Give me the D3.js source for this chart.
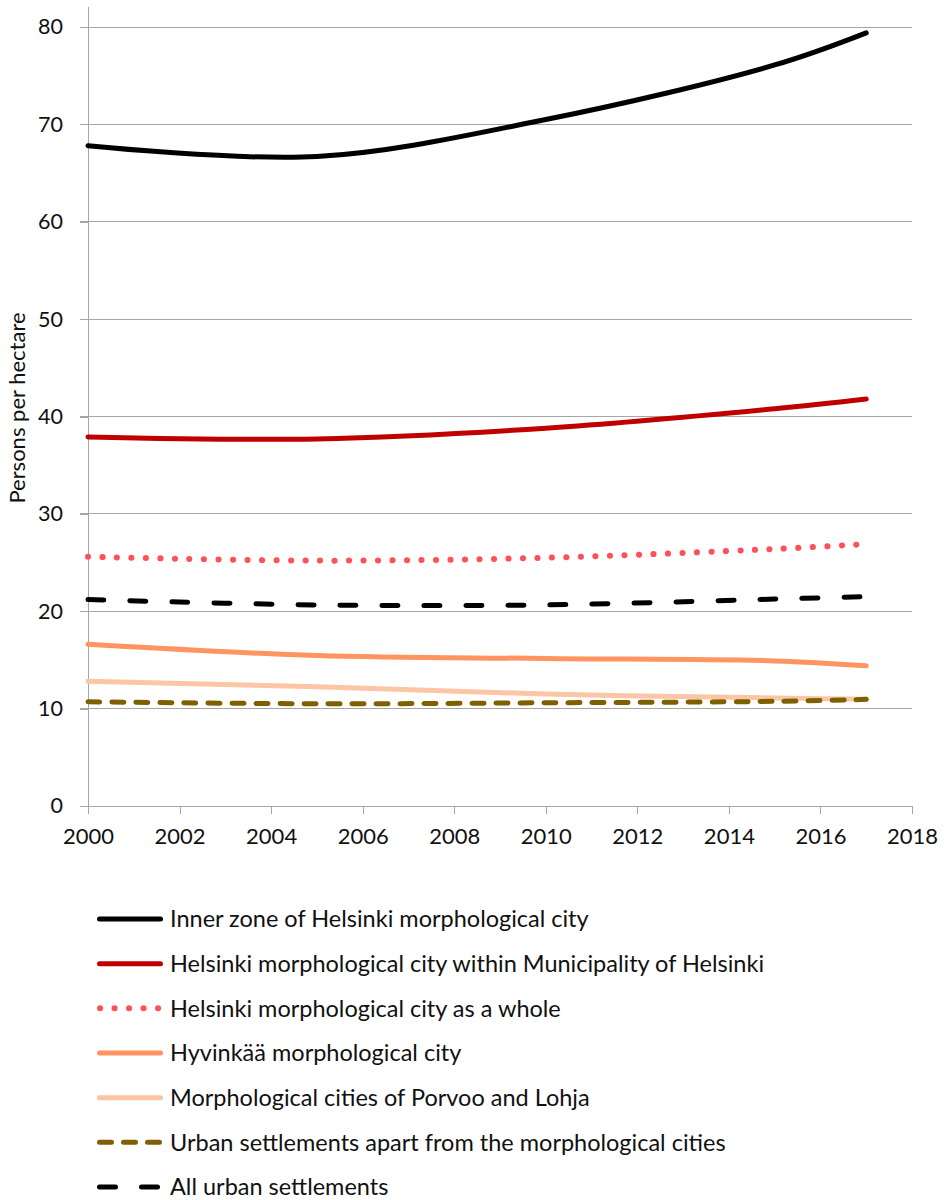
<!DOCTYPE html>
<html>
<head>
<meta charset="utf-8">
<script src="https://cdn.jsdelivr.net/npm/d3@7"></script>
<style>
  html, body { margin: 0; padding: 0; background: #fff; }
  svg { display: block; }
  text { font-family: Lato, "Open Sans", sans-serif; fill: #111; }
</style>
</head>
<body>
<svg id="chart" width="944" height="1200"></svg>
<script>
// ---- data ----
const years = [2000, 2005, 2010, 2015, 2017];
const innerZone      = [67.8, 66.7, 70.5, 76.1, 79.4];
const helsinkiMunic  = [37.9, 37.7, 38.8, 40.8, 41.8];
const helsinkiWhole  = [25.6, 25.2, 25.5, 26.4, 26.9];
const hyvinkaa       = [16.6, 15.45, 15.15, 14.9, 14.4];
const porvooLohja    = [12.8, 12.25, 11.5, 11.1, 10.95];
const urbanApart     = [10.7, 10.5, 10.6, 10.75, 10.95];
const allUrban       = [21.2, 20.65, 20.65, 21.25, 21.5];

const seriesNames = [
  "Inner zone of Helsinki morphological city",
  "Helsinki morphological city within Municipality of Helsinki",
  "Helsinki morphological city as a whole",
  "Hyvinkää morphological city",
  "Morphological cities of Porvoo and Lohja",
  "Urban settlements apart from the morphological cities",
  "All urban settlements"
];
const seriesValues = [innerZone, helsinkiMunic, helsinkiWhole, hyvinkaa, porvooLohja, urbanApart, allUrban];

const xTicks = [2000, 2002, 2004, 2006, 2008, 2010, 2012, 2014, 2016, 2018];
const yTicks = [0, 10, 20, 30, 40, 50, 60, 70, 80];
const yLabel = "Persons per hectare";

// ---- styles ----
const styles = [
  { color: "#000000", width: 5, dash: null },
  { color: "#c00000", width: 5, dash: null },
  { color: "#ff505a", width: 6, dash: "0.1,14.4" },
  { color: "#ff9460", width: 5, dash: null },
  { color: "#fcc5a5", width: 5, dash: null },
  { color: "#7f6000", width: 5, dash: "12,12" },
  { color: "#000000", width: 5, dash: "16,26" }
];

const svg = d3.select("#chart");
const x = d3.scaleLinear().domain([2000, 2018]).range([88, 912]);
const y = d3.scaleLinear().domain([0, 80]).range([806, 27]);
const gridColor = "#a6a6a6";

// gridlines
svg.append("g").selectAll("line")
  .data(yTicks.filter(d => d > 0))
  .join("line")
  .attr("x1", 80).attr("x2", 912)
  .attr("y1", d => y(d)).attr("y2", d => y(d))
  .attr("stroke", gridColor).attr("stroke-width", 1).attr("shape-rendering", "crispEdges");

// y axis
const yAxis = svg.append("g").attr("transform", "translate(88,0)")
  .call(d3.axisLeft(y).tickValues(yTicks).tickSize(8).tickPadding(17).tickFormat(d3.format("d")));
yAxis.select(".domain").remove();
yAxis.selectAll(".tick line").attr("stroke", gridColor).attr("shape-rendering", "crispEdges");
yAxis.selectAll(".tick text").attr("font-size", 21.5).attr("font-family", "Lato, sans-serif").attr("fill", "#111");
svg.append("line").attr("x1", 88).attr("x2", 88).attr("y1", 7).attr("y2", 806)
  .attr("stroke", gridColor).attr("shape-rendering", "crispEdges");

// x axis
const xAxis = svg.append("g").attr("transform", "translate(0,806)")
  .call(d3.axisBottom(x).tickValues(xTicks).tickSize(8).tickPadding(14).tickFormat(d3.format("d")));
xAxis.select(".domain").attr("d", "M80,0.5H912").attr("stroke", gridColor);
xAxis.selectAll(".tick line").attr("stroke", gridColor).attr("shape-rendering", "crispEdges");
xAxis.selectAll(".tick text").attr("font-size", 22).attr("font-family", "Lato, sans-serif").attr("fill", "#111");

// y label
svg.append("text")
  .attr("transform", "translate(25,408) rotate(-90)")
  .attr("text-anchor", "middle")
  .attr("font-size", 22)
  .text(yLabel);

// lines
const line = d3.line()
  .x((d, i) => x(years[i]))
  .y(d => y(d))
  .curve(d3.curveCatmullRom.alpha(0.5));

const drawOrder = [4, 3, 5, 6, 2, 1, 0];
drawOrder.forEach(k => {
  const s = styles[k];
  const p = svg.append("path")
    .attr("d", line(seriesValues[k]))
    .attr("fill", "none")
    .attr("stroke", s.color)
    .attr("stroke-width", s.width)
    .attr("stroke-linecap", "round")
    .attr("stroke-linejoin", "round");
  if (s.dash) p.attr("stroke-dasharray", s.dash);
});

// legend
const legendY = d3.scaleLinear().domain([0, 6]).range([919, 1187]);
const lg = svg.append("g");
seriesNames.forEach((name, i) => {
  const s = styles[i];
  const cy = legendY(i);
  const l = lg.append("line")
    .attr("x1", s.dash === "0.1,14.4" ? 100 : 99.5).attr("x2", 160.5)
    .attr("y1", cy).attr("y2", cy)
    .attr("stroke", s.color).attr("stroke-width", s.width)
    .attr("stroke-linecap", "round");
  if (s.dash) l.attr("stroke-dasharray", s.dash);
  lg.append("text")
    .attr("x", 170).attr("y", cy).attr("dy", "0.36em")
    .attr("font-size", 23.5)
    .text(name);
});
</script>
</body>
</html>
